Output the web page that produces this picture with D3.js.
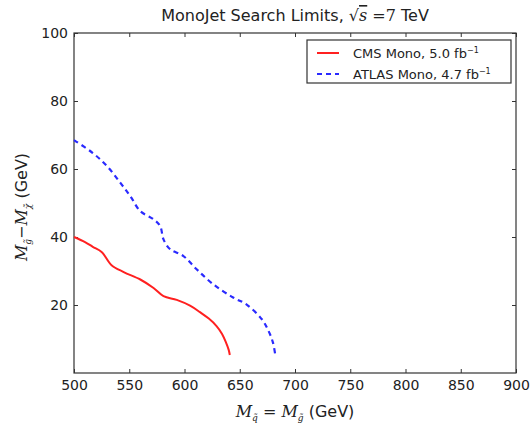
<!DOCTYPE html>
<html>
<head>
<meta charset="utf-8">
<script src="https://cdn.jsdelivr.net/npm/d3@7"></script>
<style>
  body { margin: 0; background: #fff; }
  text { font-family: "DejaVu Sans", sans-serif; fill: #222; }
  .math { font-family: "DejaVu Serif", "Liberation Serif", serif; font-style: italic; }
</style>
</head>
<body>
<script>
// limit curves
let cmsMass = [500, 510, 517, 525, 534, 545, 560, 572, 581, 593, 605, 614, 622, 629, 634, 637.5, 640, 641];
let cmsDelta = [40, 38.5, 37.1, 35.6, 31.7, 29.7, 27.5, 25, 22.6, 21.5, 19.8, 17.9, 16, 13.8, 11.5, 9, 6.8, 5.3];

let atlasMass = [500, 517, 530, 542, 551, 560, 572, 578, 581, 587, 599, 611, 626, 644, 656, 670, 676, 680, 682];
let atlasDelta = [68.5, 64.7, 60.8, 55.9, 52, 47.6, 45.2, 43.2, 39.3, 36.4, 34.4, 30.5, 26.1, 22.2, 20.2, 15.8, 12.4, 9, 5.6];

let xTicks = [500, 550, 600, 650, 700, 750, 800, 850, 900];
let yTicks = [20, 40, 60, 80, 100];

let margin = {top: 33, right: 16, bottom: 54, left: 74},
    width = 532 - margin.left - margin.right,
    height = 427 - margin.top - margin.bottom;

let x = d3.scaleLinear().domain([500, 900]).range([0, width]);
let y = d3.scaleLinear().domain([0, 100]).range([height, 0]);

let svg = d3.select("body").append("svg")
    .attr("width", 532)
    .attr("height", 427)
  .append("g")
    .attr("transform", "translate(" + margin.left + "," + margin.top + ")");

// ticks pointing inward on all sides
let tickStyle = function(g) {
    g.select(".domain").remove();
    g.selectAll("line").attr("stroke", "#333");
    g.selectAll("text").style("font-size", "14px").attr("fill", "#333");
};

svg.append("g")
    .attr("transform", "translate(0," + height + ")")
    .call(d3.axisBottom(x).tickValues(xTicks).tickSize(-4).tickPadding(7))
    .call(tickStyle);
svg.append("g")
    .call(d3.axisTop(x).tickValues(xTicks).tickSize(-4).tickFormat(""))
    .call(tickStyle);
svg.append("g")
    .call(d3.axisLeft(y).tickValues(yTicks).tickSize(-4).tickPadding(6))
    .call(tickStyle);
svg.append("g")
    .attr("transform", "translate(" + width + ",0)")
    .call(d3.axisRight(y).tickValues(yTicks).tickSize(-4).tickFormat(""))
    .call(tickStyle);

svg.append("rect")
    .attr("width", width)
    .attr("height", height)
    .attr("fill", "none")
    .attr("stroke", "#333")
    .attr("stroke-width", 1.2);

let line = d3.line()
    .x(d => x(d[0]))
    .y(d => y(d[1]))
    .curve(d3.curveCatmullRom);

svg.append("path")
    .datum(d3.zip(cmsMass, cmsDelta))
    .attr("d", line)
    .attr("fill", "none")
    .attr("stroke", "#ff2020")
    .attr("stroke-width", 2);

svg.append("path")
    .datum(d3.zip(atlasMass, atlasDelta))
    .attr("d", line)
    .attr("fill", "none")
    .attr("stroke", "#2a2aff")
    .attr("stroke-width", 2.2)
    .attr("stroke-dasharray", "5,4");

// title
let title = svg.append("text")
    .attr("x", width / 2)
    .attr("y", -12)
    .attr("text-anchor", "middle")
    .style("font-size", "16px");
title.append("tspan").text("MonoJet Search Limits, ");
title.append("tspan").attr("class", "math").style("font-style", "normal").text("\u221A");
title.append("tspan").attr("class", "math").style("text-decoration", "overline").text("s");
title.append("tspan").attr("class", "math").style("font-style", "normal").text(" =7");
title.append("tspan").text(" TeV");

// x label
let xl = svg.append("text")
    .attr("x", width / 2)
    .attr("y", height + 44)
    .attr("text-anchor", "middle")
    .style("font-size", "16px");
xl.append("tspan").attr("class", "math").text("M");
xl.append("tspan").attr("class", "math").attr("dy", 4).style("font-size", "9px").text("q\u0303");
xl.append("tspan").attr("class", "math").attr("dy", -4).style("font-style", "normal").text(" = ");
xl.append("tspan").attr("class", "math").text("M");
xl.append("tspan").attr("class", "math").attr("dy", 4).style("font-size", "9px").text("g\u0303");
xl.append("tspan").attr("dy", -4).text(" (GeV)");

// y label
let yl = svg.append("text")
    .attr("transform", "translate(-47," + (height / 2 + 4) + ") rotate(-90)")
    .attr("text-anchor", "middle")
    .style("font-size", "16px");
yl.append("tspan").attr("class", "math").text("M");
yl.append("tspan").attr("class", "math").attr("dy", 4).style("font-size", "9px").text("g\u0303");
yl.append("tspan").attr("class", "math").attr("dy", -4).style("font-style", "normal").text("\u2212");
yl.append("tspan").attr("class", "math").text("M");
yl.append("tspan").attr("class", "math").attr("dy", 4).style("font-size", "9px").text("\u03C7\u0303");
yl.append("tspan").attr("dy", -4).text(" (GeV)");

// legend
let legendX = 307 - margin.left, legendY = 40 - margin.top;
let legend = svg.append("g").attr("transform", "translate(" + legendX + "," + legendY + ")");
legend.append("rect")
    .attr("width", 204)
    .attr("height", 43)
    .attr("fill", "#fff")
    .attr("stroke", "#333")
    .attr("stroke-width", 1.2);

let entries = [
    {label: "CMS Mono, 5.0 fb", color: "#ff2020", dash: null},
    {label: "ATLAS Mono, 4.7 fb", color: "#2a2aff", dash: "5,4"}
];
entries.forEach(function(e, i) {
    let yy = 13 + i * 21;
    legend.append("line")
        .attr("x1", 10).attr("x2", 32)
        .attr("y1", yy).attr("y2", yy)
        .attr("stroke", e.color)
        .attr("stroke-width", 2)
        .attr("stroke-dasharray", e.dash);
    let t = legend.append("text")
        .attr("x", 46)
        .attr("y", yy + 4.5)
        .style("font-size", "13px");
    t.append("tspan").text(e.label);
    t.append("tspan").attr("dy", -5).style("font-size", "8px").text("\u22121");
});
</script>
</body>
</html>
